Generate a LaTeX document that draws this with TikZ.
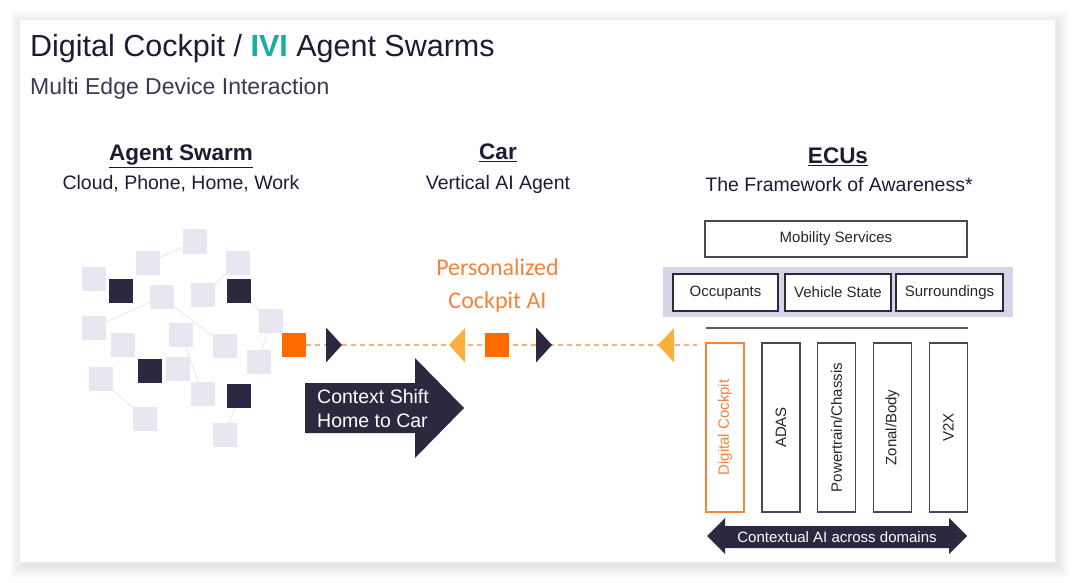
\documentclass[tikz,border=0pt]{standalone}
\usepackage{fontspec}
\setmainfont{Liberation Sans}
\newfontfamily\calib{Carlito}
\usetikzlibrary{backgrounds}
\definecolor{navy}{HTML}{1E1B33}
\definecolor{subnavy}{HTML}{3B3852}
\definecolor{darkbox}{HTML}{2B2840}
\definecolor{teal}{HTML}{1AADA5}
\definecolor{orsq}{HTML}{FF6A00}
\definecolor{ortext}{HTML}{F5823C}
\definecolor{amber}{HTML}{FBB03B}
\definecolor{dashor}{HTML}{F7B27A}
\definecolor{lav}{HTML}{D6D4E6}
\definecolor{sqlight}{HTML}{E8E7F1}
\definecolor{lnlight}{HTML}{ECECF0}
\definecolor{boxline}{HTML}{4A4858}
\newcommand{\fs}[2]{\fontsize{#1}{#2}\selectfont}
\tikzset{
  lsq/.style={fill=sqlight, minimum size=24, inner sep=0pt},
  dsq/.style={fill=darkbox, minimum size=24, inner sep=0pt},
  osq/.style={fill=orsq, minimum size=24, inner sep=0pt},
  swline/.style={draw=lnlight, line width=1.1pt},
  heading/.style={font=\bfseries\fs{22.5}{26}, text=navy, anchor=base, inner sep=0pt},
  subhead/.style={font=\fs{19.5}{23}, text=navy, anchor=base, inner sep=0pt},
  smallbox/.style={draw=boxline, line width=1.3pt, fill=white, font=\fs{15}{18}, text=black!85, inner sep=0pt},
  ctxbox/.style={draw=darkbox, line width=2.4pt, fill=white, font=\fs{15}{18}, text=black!85, inner sep=0pt, minimum height=37},
  ecubox/.style={draw=boxline, line width=1.1pt, fill=white, rotate=90, minimum width=169, minimum height=38, inner sep=0pt, font=\fs{15}{18}, text=black!85},
  darkfill/.style={fill=darkbox},
}
\begin{document}
\begin{tikzpicture}[x=1pt,y=-1pt]
\useasboundingbox (0,0) rectangle (1080,583);
\begin{scope}[on background layer]
% background and slide with soft shadow
\fill[white] (0,0) rectangle (1080,583);
\foreach \i in {1,...,12}{
  \fill[black, opacity=0.006] (20-\i+2,20-\i+3) rectangle (1056+\i+1,562+\i+4);
}
\fill[white] (20,20) rectangle (1056,562);
\draw[black!7, line width=1pt] (1055.5,20) -- (1055.5,562);
\end{scope}

% title
\node[anchor=base west, inner sep=0pt, text=navy, font=\fs{30.5}{34}] (title) at (30,57)
  {Digital Cockpit / \textbf{\color{teal}IVI} Agent Swarms};
\node[anchor=base west, inner sep=0pt, text=subnavy, font=\fs{23}{27}] (subtitle) at (30,95)
  {Multi Edge Device Interaction};

% headings
\node[heading] (h1) at (181,161) {\underline{Agent Swarm}};
\node[subhead] (h1s) at (181,190) {Cloud, Phone, Home, Work};
\node[heading] (h2) at (498,160) {\underline{Car}};
\node[subhead] (h2s) at (498,190) {Vertical AI Agent};
\node[heading] (h3) at (838,164) {\underline{ECUs}};
\node[subhead] (h3s) at (839,192) {The Framework of Awareness*};

% swarm squares
\node[lsq] (s1) at (195,241.5) {};
\node[lsq] (s2) at (148,262.5) {};
\node[lsq] (s3) at (238,262.5) {};
\node[lsq] (s4) at (94,278.5) {};
\node[lsq] (s5) at (161.5,297) {};
\node[lsq] (s6) at (203,295) {};
\node[lsq] (s7) at (270.5,321) {};
\node[lsq] (s8) at (94,327.5) {};
\node[lsq] (s9) at (181,335) {};
\node[lsq] (s10) at (122.5,345) {};
\node[lsq] (s11) at (225,346) {};
\node[lsq] (s12) at (258.5,361.5) {};
\node[lsq] (s13) at (178,368.5) {};
\node[lsq] (s14) at (101,379) {};
\node[lsq] (s15) at (203,394) {};
\node[lsq] (s16) at (145,419) {};
\node[lsq] (s17) at (225,435) {};
\node[dsq] (d1) at (120.5,291) {};
\node[dsq] (d2) at (238.5,291) {};
\node[dsq] (d3) at (149.5,371) {};
\node[dsq] (d4) at (238.5,396) {};
\begin{scope}[on background layer]
  \draw[swline] (s2.center) -- (s1.center);
  \draw[swline] (s6.center) -- (s3.center);
  \draw[swline] (s8.center) -- (s5.center);
  \draw[swline] (s5.center) -- (s11.center);
  \draw[swline] (d2.center) -- (s7.center);
  \draw[swline] (s7.center) -- (s12.center);
  \draw[swline] (s9.center) -- (s15.center);
  \draw[swline] (s14.center) -- (s16.center);
  \draw[swline] (d4.center) -- (s17.center);
\end{scope}

% dashed flow line
\node[osq] (o1) at (294,345) {};
\node[osq] (o2) at (497,345) {};
\coordinate (lineend) at (697,345);
\begin{scope}[on background layer]
  \draw[dashor, line width=1.3pt, dash pattern=on 5pt off 4pt] (o1.east) -- (lineend);
\end{scope}
\fill[darkbox] (326,327.5) -- (342,345) -- (326,362.5) -- cycle;
\fill[darkbox] (536,327.5) -- (552,345) -- (536,362.5) -- cycle;
\fill[amber] (465,328) -- (449,345) -- (465,362.5) -- cycle;
\fill[amber] (674,328) -- (658,345) -- (674,362.5) -- cycle;

\node[align=center, text=ortext, font=\calib\fs{24}{33}, inner sep=0pt, anchor=base] (pers) at (497.5,308)
  {Personalized\\Cockpit AI};

% context shift arrow
\fill[darkfill] (305,383) -- (415,383) -- (415,358) -- (464,408) -- (415,458) -- (415,433) -- (305,433) -- cycle;
\node[anchor=base west, align=left, text=white, font=\fs{19.5}{24}, inner sep=0pt] (cs) at (317,427)
  {Context Shift\\Home to Car};

% ECU side
\node[smallbox, minimum width=262, minimum height=36] (mob) at (836,239) {Mobility Services};
\fill[lav] (663,267) rectangle (1013,317);
\node[ctxbox, minimum width=105] (occ) at (725.5,292.5) {Occupants};
\node[ctxbox, minimum width=106] (veh) at (838,292.5) {Vehicle State};
\node[ctxbox, minimum width=107] (sur) at (949.5,292.5) {Surroundings};
\coordinate (hl1) at (706,328);
\coordinate (hl2) at (968,328);
\draw[boxline!90, line width=1.4pt] (hl1) -- (hl2);

\node[ecubox, draw=ortext, text=ortext] (dc) at (725,427.5) {Digital Cockpit};
\node[ecubox] (adas) at (781,427.5) {ADAS};
\node[ecubox] (pt) at (836.5,427.5) {Powertrain/Chassis};
\node[ecubox] (zb) at (892.5,427.5) {Zonal/Body};
\node[ecubox] (v2x) at (948.5,427.5) {V2X};

% contextual AI double arrow
\fill[darkfill] (707,536) -- (725,518) -- (725,526) -- (949,526) -- (949,518) -- (967,536)
  -- (949,554) -- (949,548) -- (725,548) -- (725,554) -- cycle;
\node[text=white, font=\fs{15}{18}, inner sep=0pt] (ctx) at (837,537) {Contextual AI across domains};
\end{tikzpicture}
\end{document}
